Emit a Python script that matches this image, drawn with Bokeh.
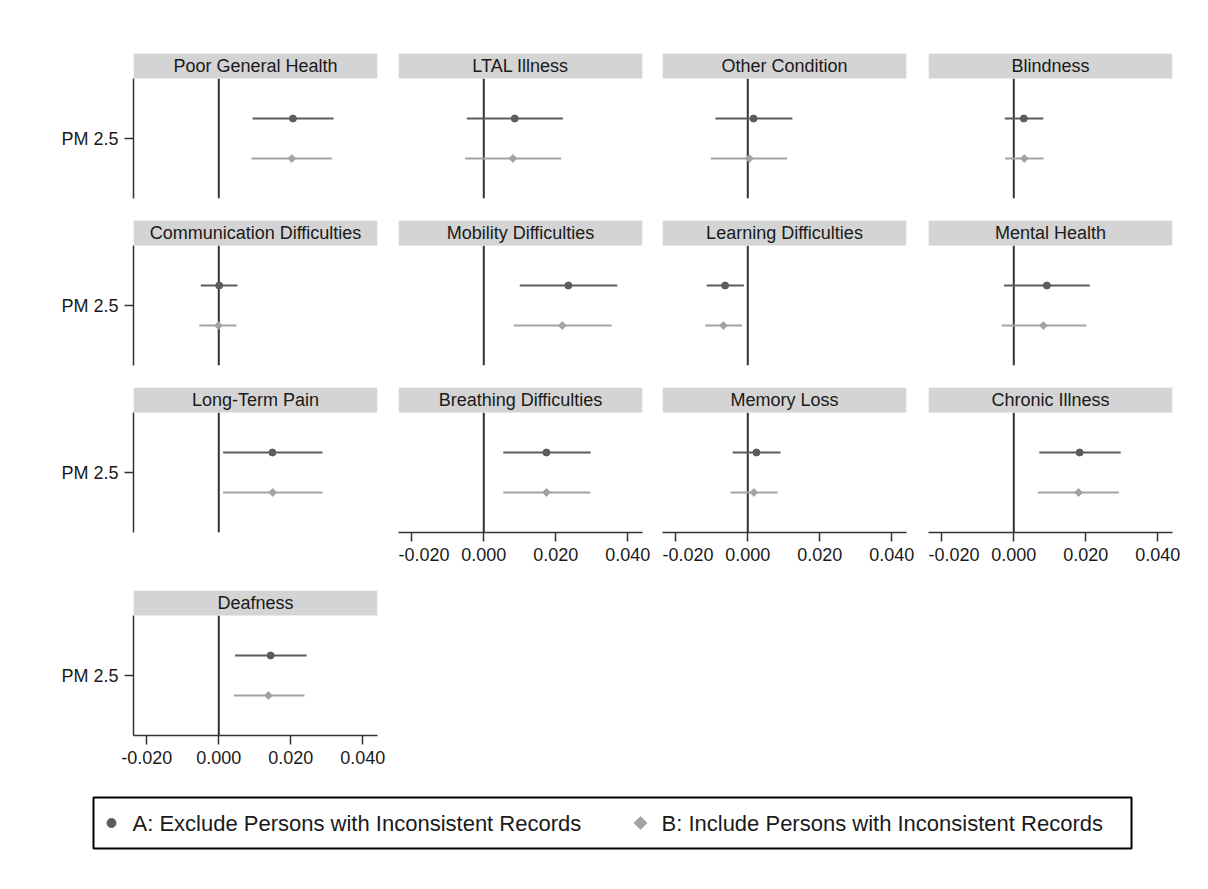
import json
import numpy as np
from bokeh.plotting import figure
from bokeh.layouts import row, column
from bokeh.models import (Range1d, FixedTicker, NumeralTickFormatter, BoxAnnotation,
                          Label, CustomJSTickFormatter)
from bokeh.core.properties import value
from bokeh.embed import file_html
from bokeh.resources import INLINE

# ---------------- data ----------------
conditions = ["Poor General Health", "LTAL Illness", "Other Condition", "Blindness",
              "Communication Difficulties", "Mobility Difficulties", "Learning Difficulties",
              "Mental Health", "Long-Term Pain", "Breathing Difficulties", "Memory Loss",
              "Chronic Illness", "Deafness"]
coef_a = [0.0206, 0.0086, 0.0016, 0.0028, 0.0001, 0.0235, -0.0063, 0.0092, 0.0149, 0.0174, 0.0024, 0.0183, 0.0144]
lo_a = [0.0094, -0.0047, -0.0090, -0.0025, -0.0050, 0.0100, -0.0114, -0.0027, 0.0012, 0.0054, -0.0042, 0.0071, 0.0045]
hi_a = [0.0319, 0.0220, 0.0124, 0.0082, 0.0052, 0.0371, -0.0011, 0.0211, 0.0288, 0.0297, 0.0091, 0.0297, 0.0244]
coef_b = [0.0203, 0.0081, 0.0004, 0.0029, -0.0001, 0.0218, -0.0068, 0.0082, 0.0150, 0.0174, 0.0017, 0.0180, 0.0138]
lo_b = [0.0091, -0.0052, -0.0103, -0.0024, -0.0054, 0.0083, -0.0118, -0.0034, 0.0012, 0.0054, -0.0048, 0.0067, 0.0042]
hi_b = [0.0315, 0.0215, 0.0109, 0.0083, 0.0049, 0.0355, -0.0016, 0.0202, 0.0288, 0.0296, 0.0083, 0.0292, 0.0238]
series_labels = ["A: Exclude Persons with Inconsistent Records",
                 "B: Include Persons with Inconsistent Records"]
x_ticks = [-0.02, 0.0, 0.02, 0.04]
y_label = "PM 2.5"

# ---------------- style / layout ----------------
FONT = "Liberation Sans"
COL_A = "#5c5c5c"
COL_B = "#a3a3a3"
AXIS = "#333333"
TXT = "#1a1a1a"
X_MIN, X_MAX = -0.0237, 0.0441
PLOT_LO, PLOT_HI, HEAD_HI = -0.6, 0.6, 0.85
OFF_A, OFF_B = 0.2, -0.2
FRAME_W, FRAME_H = 244, 145
col_left = [133, 0, 0, 0]
col_right = [21, 20, 22, 20]
row_top = [53, 0, 0, 0]
row_bottom = [22, 22, 58, 45]


def style_axis(ax):
    ax.axis_line_color = AXIS
    ax.axis_line_width = 1.5
    ax.major_tick_line_color = AXIS
    ax.major_tick_line_width = 1.5
    ax.major_tick_out = 9
    ax.major_tick_in = 0
    ax.minor_tick_line_color = None
    ax.major_label_text_font = FONT
    ax.major_label_text_font_size = "18px"
    ax.major_label_text_color = TXT
    ax.major_label_standoff = 6


def make_panel(i):
    r, c = divmod(i, 4)
    has_x = (r == 2 and c > 0) or r == 3
    has_y = c == 0
    p = figure(width=col_left[c] + FRAME_W + col_right[c],
               height=row_top[r] + FRAME_H + row_bottom[r],
               x_range=Range1d(X_MIN, X_MAX), y_range=Range1d(PLOT_LO, HEAD_HI),
               output_backend="svg", toolbar_location=None, title=None,
               x_axis_type="linear" if has_x else None,
               y_axis_type="linear" if has_y else None,
               min_border_left=col_left[c], min_border_right=col_right[c],
               min_border_top=row_top[r], min_border_bottom=row_bottom[r],
               outline_line_color=None)
    p.xgrid.grid_line_color = None
    p.ygrid.grid_line_color = None
    if has_x:
        ax = p.xaxis[0]
        ax.ticker = FixedTicker(ticks=x_ticks)
        ax.formatter = NumeralTickFormatter(format="0.000")
        style_axis(ax)
    if has_y:
        ay = p.yaxis[0]
        ay.ticker = FixedTicker(ticks=[0])
        ay.formatter = CustomJSTickFormatter(code="return %s;" % json.dumps(y_label))
        ay.bounds = (PLOT_LO, PLOT_HI)
        style_axis(ay)

    # reference line at zero
    p.segment(x0=[0], y0=[PLOT_LO], x1=[0], y1=[PLOT_HI], line_color=AXIS, line_width=2)
    # series A
    p.segment(x0=[lo_a[i]], y0=[OFF_A], x1=[hi_a[i]], y1=[OFF_A], line_color=COL_A, line_width=2)
    p.scatter(x=[coef_a[i]], y=[OFF_A], marker="circle", size=7, color=COL_A)
    # series B
    p.segment(x0=[lo_b[i]], y0=[OFF_B], x1=[hi_b[i]], y1=[OFF_B], line_color=COL_B, line_width=2)
    p.scatter(x=[coef_b[i]], y=[OFF_B], marker="square", angle=np.pi / 4, size=5.5, color=COL_B)

    # header strip
    p.add_layout(BoxAnnotation(bottom=PLOT_HI, fill_color="#d4d4d4", fill_alpha=1.0,
                               line_color="#e4ebf0", line_width=1))
    p.add_layout(Label(x=(X_MIN + X_MAX) / 2, y=(PLOT_HI + HEAD_HI) / 2, text=conditions[i],
                       text_align="center", text_baseline="middle", text_font=FONT,
                       text_font_size="18px", text_color=TXT))
    return p


panels = [make_panel(i) for i in range(len(conditions))]
rows = [row(*panels[k:k + 4]) for k in range(0, len(panels), 4)]

# ---------------- legend ----------------
LEG_W, LEG_H = 1038, 51
leg = figure(width=93 + LEG_W + 69, height=17 + LEG_H + 12,
             x_range=Range1d(0, LEG_W), y_range=Range1d(0, LEG_H),
             output_backend="svg", toolbar_location=None, title=None,
             x_axis_type=None, y_axis_type=None,
             min_border_left=93, min_border_right=69, min_border_top=17, min_border_bottom=12,
             outline_line_color="black", outline_line_width=2)
leg.xgrid.grid_line_color = None
leg.ygrid.grid_line_color = None
mid = LEG_H / 2
leg.scatter(x=[18], y=[mid], marker="circle", size=9, color=COL_A)
leg.scatter(x=[547], y=[mid], marker="square", angle=np.pi / 4, size=9, color=COL_B)
leg.text(x=[39, 568], y=[mid, mid], text=series_labels, text_font=value(FONT),
         text_font_size="22px", text_baseline="middle", text_align="left", text_color=TXT)

layout = column(*rows, leg)
open("out.html", "w").write(file_html(layout, INLINE, title="PM 2.5 coefficients"))
